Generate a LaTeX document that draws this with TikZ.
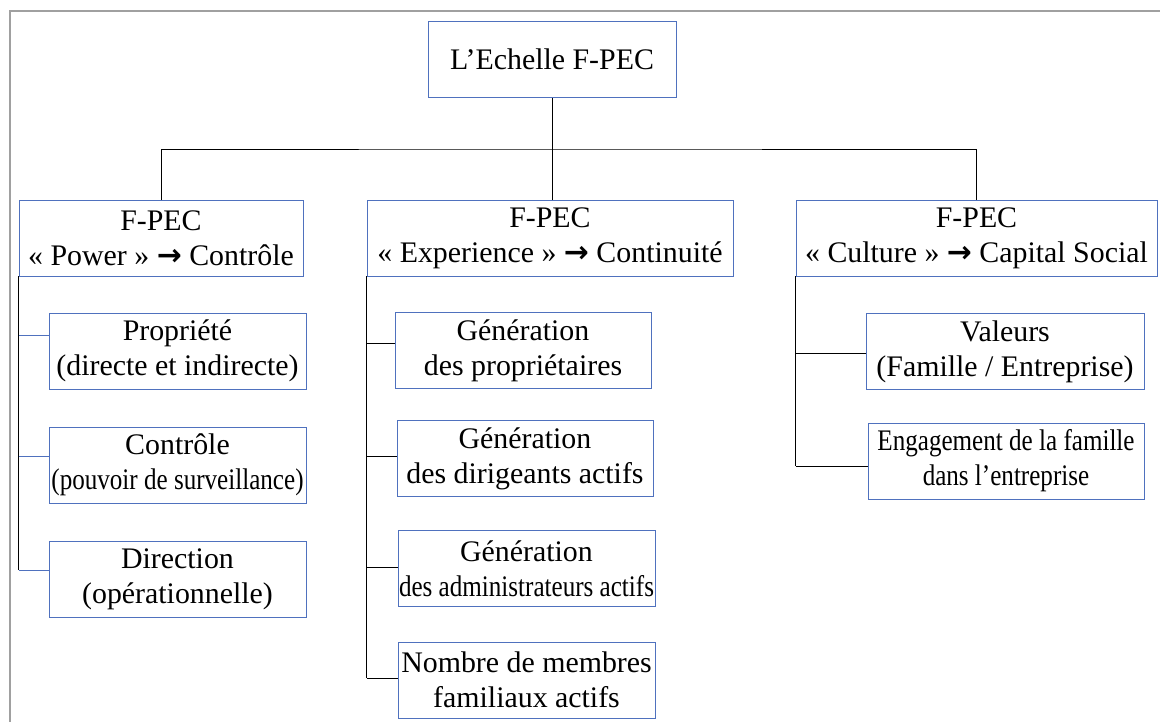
\documentclass[tikz,border=0pt]{standalone}
\usepackage{fontspec}
\usepackage{graphicx}
\setmainfont{Liberation Serif}
\newfontfamily\arrowfont{DejaVu Sans}
\usetikzlibrary{positioning}
\definecolor{boxblue}{RGB}{79,113,190}
\definecolor{framegray}{RGB}{160,160,160}
\newcommand{\fleche}{{\arrowfont\bfseries →}}
\newcommand{\serre}[1]{\scalebox{0.84}[1]{#1}}
\tikzset{
  box/.style={draw=boxblue, line width=0.5pt, align=center, inner sep=0pt,
    minimum height=1.52cm, font=\fontsize{17}{20}\selectfont},
  link/.style={draw=black, line width=0.5pt},
  tick/.style={draw=boxblue, line width=0.5pt}
}
\begin{document}
\begin{tikzpicture}[x=0.02cm, y=-0.02cm]
  \useasboundingbox (0,0) rectangle (1160,722);
  \draw[framegray, line width=0.8pt] (1160,11) -- (10,11) -- (10,722);
  % top
  \node[box, minimum width=4.96cm] (root) at (552,59.5) {L’Echelle F-PEC};
  \node[box, minimum width=5.68cm] (power) at (161,238) {F-PEC\\« Power » \fleche{} Contrôle};
  \node[box, minimum width=7.32cm] (exp) at (550,238) {F-PEC\\« Experience » \fleche{} Continuité};
  \node[box, minimum width=7.22cm] (cult) at (976.5,238) {F-PEC\\« Culture » \fleche{} Capital Social};
  % power
  \node[box, minimum width=5.14cm] (prop) at (177.5,351) {Propriété\\(directe et indirecte)};
  \node[box, minimum width=5.14cm] (ctrl) at (177.5,465) {Contrôle\\\serre{(pouvoir de surveillance)}};
  \node[box, minimum width=5.14cm] (dir) at (177.5,579) {Direction\\(opérationnelle)};
  % experience
  \node[box, minimum width=5.12cm] (gprop) at (523,350.5) {Génération\\des propriétaires};
  \node[box, minimum width=5.12cm] (gdir) at (525,458.5) {Génération\\des dirigeants actifs};
  \node[box, minimum width=5.14cm] (gadm) at (526.5,568.5) {Génération\\\serre{des administrateurs actifs}};
  \node[box, minimum width=5.14cm] (nomb) at (526.5,680) {Nombre de membres\\familiaux actifs};
  % culture
  \node[box, minimum width=5.56cm] (val) at (1005,351.5) {Valeurs\\(Famille / Entreprise)};
  \node[box, minimum width=5.52cm] (eng) at (1006,461) {\serre{Engagement de la famille}\\\serre{dans l’entreprise}};
  % links
  \coordinate (bus) at (552,149);
  \draw[link] (root.south) -- (root.south |- exp.north);
  \draw[link] (power.north) |- (bus) -| (cult.north);
  \draw[link] (power.south west) -- ([yshift=0.18cm]power.south west |- dir.west);
  \foreach \c/\d in {prop/0.32,ctrl/0.18,dir/0.18}
    \draw[tick] ([yshift=\d cm]power.south west |- \c.west) -- ([yshift=\d cm]\c.west);
  \draw[link] (exp.south west) -- ([yshift=0.04cm]exp.south west |- nomb.west);
  \foreach \c/\d in {gprop/0.14,gdir/0.04,gadm/0.02,nomb/0.04}
    \draw[link] ([yshift=\d cm]exp.south west |- \c.west) -- ([yshift=\d cm]\c.west);
  \draw[link] (cult.south west) -- ([yshift=-0.1cm]cult.south west |- eng.west);
  \foreach \c/\d in {val/-0.04,eng/-0.1}
    \draw[link] ([yshift=\d cm]cult.south west |- \c.west) -- ([yshift=\d cm]\c.west);
\end{tikzpicture}
\end{document}
